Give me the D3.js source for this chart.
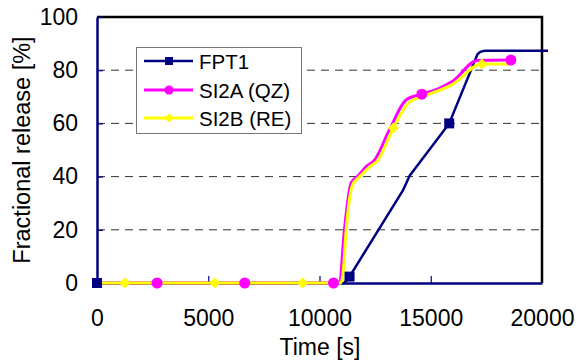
<!DOCTYPE html>
<html>
<head>
<meta charset="utf-8">
<script src="https://cdn.jsdelivr.net/npm/d3@7"></script>
<style>
    body { margin: 0; background: #fff; }
    svg { font-family: Arial, "Liberation Sans", sans-serif; }
</style>
</head>
<body>
<svg width="584" height="361"></svg>
<script>
    // series: [time s, release %] - line points and marker points kept apart
    var fpt1Line = [[0, 0], [11120, 0], [11350, 2.4], [13750, 34.8], [14050, 40.3],
        [15830, 60], [17100, 86], [17220, 86.9], [17420, 87.3], [20270, 87.3]];
    var fpt1Marks = [[0, 0], [11350, 2.4], [15830, 60]];

    var si2aLine = [[0, 0], [10630, 0], [10900, 0.4], [11120, 20], [11420, 37.6], [11700, 40],
        [12090, 43.7], [12470, 46.2], [13140, 57.5], [13890, 68.8], [14600, 71], [15380, 73.2],
        [15960, 75.7], [17100, 83.6], [18600, 83.8]];
    var si2aMarks = [[2700, 0], [6640, 0], [10630, 0], [14600, 71], [18600, 83.8]];

    var si2bLine = [[0, 0], [10950, 0], [11050, 3], [11200, 20], [11480, 36.8], [11790, 39.8],
        [12240, 43.6], [12600, 45.9], [13320, 58.3], [14040, 68], [14710, 70.3], [15960, 74.6],
        [17300, 82.3], [18560, 82.3]];
    var si2bMarks = [[1250, 0], [5290, 0], [9240, 0], [13320, 58.3], [17300, 82.3]];

    var seriesNames = ["FPT1", "SI2A (QZ)", "SI2B (RE)"];
    var xTicks = [0, 5000, 10000, 15000, 20000];
    var yTicks = [0, 20, 40, 60, 80, 100];
    var gridTicks = [20, 40, 60, 80];

    var plotLeft = 97, plotRight = 542, plotTop = 17, plotBottom = 283;
    var svg = d3.select("svg");
    var x = d3.scaleLinear().domain([0, 20000]).range([plotLeft, plotRight]);
    var y = d3.scaleLinear().domain([0, 100]).range([plotBottom, plotTop]);

    // dashed gridlines
    svg.selectAll("line.grid").data(gridTicks).enter().append("line")
        .attr("class", "grid")
        .attr("x1", plotLeft).attr("x2", plotRight)
        .attr("y1", function(d) { return y(d); })
        .attr("y2", function(d) { return y(d); })
        .attr("stroke", "#333").attr("stroke-width", 1)
        .attr("stroke-dasharray", "8,6");

    // top and right frame
    svg.append("path")
        .attr("d", "M" + plotLeft + "," + plotTop + "H" + plotRight + "V" + plotBottom)
        .attr("fill", "none").attr("stroke", "#000").attr("stroke-width", 2.5);

    var yAxis = svg.append("g")
        .attr("transform", "translate(" + plotLeft + ",0)")
        .call(d3.axisLeft(y).tickValues(yTicks).tickSize(-6).tickSizeOuter(0).tickPadding(19));
    var xAxis = svg.append("g")
        .attr("transform", "translate(0," + plotBottom + ")")
        .call(d3.axisBottom(x).tickValues(xTicks).tickFormat(d3.format("d"))
            .tickSize(-7).tickSizeOuter(0).tickPadding(27));

    [yAxis, xAxis].forEach(function(g) {
        g.select(".domain").attr("stroke", "#000080").attr("stroke-width", 2.5);
        g.selectAll(".tick line").attr("stroke", "#000080").attr("stroke-width", 1.2);
        g.selectAll(".tick text").attr("fill", "#000").style("font-size", "23px")
            .style("font-family", "Arial, 'Liberation Sans', sans-serif");
    });
    xAxis.selectAll(".tick").filter(function(d) { return d === 0 || d === 20000; })
        .select("line").remove();

    // axis titles
    svg.append("text")
        .attr("x", 320).attr("y", 355)
        .attr("text-anchor", "middle")
        .style("font-size", "23px")
        .text("Time [s]");
    svg.append("text")
        .attr("transform", "translate(30," + (plotTop + plotBottom) / 2 + ") rotate(-90)")
        .attr("text-anchor", "middle")
        .style("font-size", "23.5px")
        .text("Fractional release [%]");

    var series = [
        { line: fpt1Line, marks: fpt1Marks, color: "#000080", width: 2.5, shape: "square", curve: d3.curveLinear },
        { line: si2aLine, marks: si2aMarks, color: "#ff00ff", width: 3, shape: "circle", curve: d3.curveMonotoneX },
        { line: si2bLine, marks: si2bMarks, color: "#ffff00", width: 3, shape: "diamond", curve: d3.curveMonotoneX }
    ];

    // marker path, r = half width
    function symbolPath(shape, r) {
        if (shape === "square") {
            return "M" + -r + "," + -r + "H" + r + "V" + r + "H" + -r + "Z";
        }
        if (shape === "diamond") {
            return "M0," + -r + "L" + r + ",0L0," + r + "L" + -r + ",0Z";
        }
        return d3.symbol().type(d3.symbolCircle).size(Math.PI * r * r)();
    }

    var markR = { square: 5, circle: 5.5, diamond: 5.5 };

    series.forEach(function(s) {
        var line = d3.line()
            .x(function(d) { return x(d[0]); })
            .y(function(d) { return y(d[1]); })
            .curve(s.curve);
        svg.append("path")
            .attr("d", line(s.line))
            .attr("fill", "none")
            .attr("stroke", s.color)
            .attr("stroke-width", s.width)
            .attr("stroke-linejoin", "round");
    });
    series.forEach(function(s) {
        svg.selectAll(null).data(s.marks).enter().append("path")
            .attr("d", symbolPath(s.shape, markR[s.shape]))
            .attr("transform", function(d) { return "translate(" + x(d[0]) + "," + y(d[1]) + ")"; })
            .attr("fill", s.color);
    });

    // legend
    var legend = svg.append("g");
    legend.append("rect")
        .attr("x", 136.5).attr("y", 47.5).attr("width", 165).attr("height", 86)
        .attr("fill", "#fff").attr("stroke", "#777").attr("stroke-width", 1);
    var rows = [61, 90, 118];
    series.forEach(function(s, i) {
        legend.append("line")
            .attr("x1", 144).attr("x2", 193)
            .attr("y1", rows[i]).attr("y2", rows[i])
            .attr("stroke", s.color).attr("stroke-width", s.width);
        legend.append("path")
            .attr("d", symbolPath(s.shape, markR[s.shape] - 1))
            .attr("transform", "translate(169," + rows[i] + ")")
            .attr("fill", s.color);
        legend.append("text")
            .attr("x", 199).attr("y", rows[i] + 7.5)
            .style("font-size", "20.5px")
            .text(seriesNames[i]);
    });
</script>
</body>
</html>
